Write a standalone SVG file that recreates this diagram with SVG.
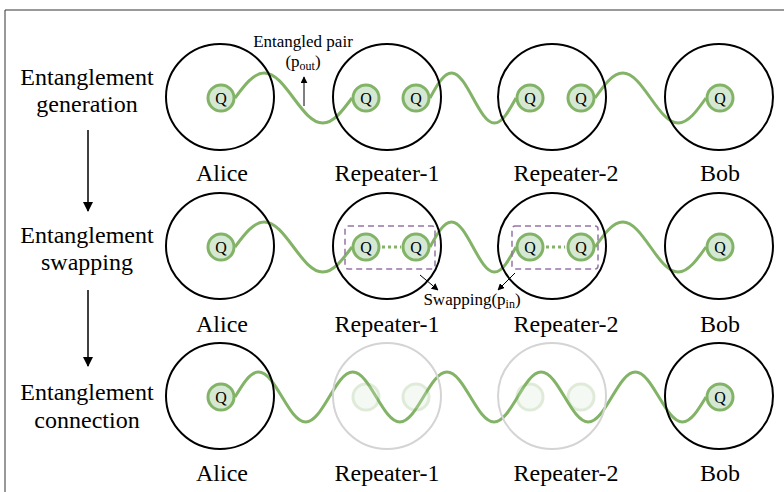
<svg xmlns="http://www.w3.org/2000/svg" width="784" height="492" viewBox="0 0 784 492">
<defs>
<style>
.frame{fill:none;stroke:#333;stroke-width:1}
.big{fill:none;stroke:#000;stroke-width:2}
.bigf{fill:none;stroke:#d4d4d4;stroke-width:2}
.q{fill:#d5e8d4;stroke:#82b366;stroke-width:3}
.qf{fill:#d5e8d4;stroke:#82b366;stroke-width:3;opacity:0.25}
text{font-family:"Liberation Serif","Times New Roman","DejaVu Serif",serif;fill:#000;text-anchor:middle}
.qt{font-size:16px}
.lbl{font-size:24px}
.sm{font-size:17px}
.wave{fill:none;stroke:#82b366;stroke-width:3}
.dot{stroke:#82b366;stroke-width:3;stroke-dasharray:3 3}
.box{fill:none;stroke:#9673a6;stroke-width:1.5;stroke-dasharray:6 4}
.arr{stroke:#000;stroke-width:1.5;fill:none;marker-end:url(#ah)}
.arrs{stroke:#000;stroke-width:1;fill:none;marker-end:url(#ahs)}
</style>
<marker id="ah" viewBox="0 0 10 10" refX="9" refY="5" markerWidth="10" markerHeight="10" markerUnits="userSpaceOnUse" orient="auto"><path d="M0,0 L10,5 L0,10 z" fill="#000"/></marker>
<marker id="ahs" viewBox="0 0 10 10" refX="9" refY="5" markerWidth="7" markerHeight="7" markerUnits="userSpaceOnUse" orient="auto"><path d="M0,0 L10,5 L0,10 z" fill="#000"/></marker>
</defs>
<rect width="784" height="492" fill="#fff"/>
<path class="frame" d="M5,492 V10 H784"/>

<g id="stage-labels">
<g id="stage-generation"><text class="lbl" x="87" y="85">Entanglement</text><text class="lbl" x="87" y="112">generation</text></g>
<g id="stage-swapping"><text class="lbl" x="87" y="243">Entanglement</text><text class="lbl" x="87" y="270">swapping</text></g>
<g id="stage-connection"><text class="lbl" x="87" y="400">Entanglement</text><text class="lbl" x="87" y="428">connection</text></g>
</g>

<g id="connectors">
<line class="arr" x1="88" y1="130" x2="88" y2="211"/>
<line class="arr" x1="88" y1="290" x2="88" y2="366"/>
<path class="wave" d="M235,98 c9.54,-12.8 18.66,-25 29.25,-25 c10.59,0 19.71,12.2 29.25,25 c9.54,12.8 18.66,25 29.25,25 c10.59,0 19.71,-12.2 29.25,-25"/>
<path class="wave" d="M430,98 c7.01,-12.8 13.72,-25 21.5,-25 c7.78,0 14.49,12.2 21.5,25 c7.01,12.8 13.72,25 21.5,25 c7.78,0 14.49,-12.2 21.5,-25"/>
<path class="wave" d="M595,98 c9.05,-12.8 17.7,-25 27.75,-25 c10.05,0 18.7,12.2 27.75,25 c9.05,12.8 17.7,25 27.75,25 c10.05,0 18.7,-12.2 27.75,-25"/>
<line class="arrs" x1="304" y1="106" x2="304" y2="77"/>
<path class="wave" d="M235,247 c9.54,-12.8 18.66,-25 29.25,-25 c10.59,0 19.71,12.2 29.25,25 c9.54,12.8 18.66,25 29.25,25 c10.59,0 19.71,-12.2 29.25,-25"/>
<path class="wave" d="M430,247 c7.01,-12.8 13.72,-25 21.5,-25 c7.78,0 14.49,12.2 21.5,25 c7.01,12.8 13.72,25 21.5,25 c7.78,0 14.49,-12.2 21.5,-25"/>
<path class="wave" d="M595,247 c9.05,-12.8 17.7,-25 27.75,-25 c10.05,0 18.7,12.2 27.75,25 c9.05,12.8 17.7,25 27.75,25 c10.05,0 18.7,-12.2 27.75,-25"/>
<line class="dot" x1="382" y1="247" x2="401" y2="247"/>
<line class="dot" x1="546" y1="247" x2="565" y2="247"/>
<line class="arrs" x1="420" y1="275" x2="438" y2="290"/>
<line class="arrs" x1="515" y1="273" x2="498" y2="290"/>
<path class="wave" d="M235,397 c7.68,-12.8 15.02,-25 23.55,-25 c8.53,0 15.87,12.2 23.55,25 c7.68,12.8 15.02,25 23.55,25 c8.53,0 15.87,-12.2 23.55,-25 c7.68,-12.8 15.02,-25 23.55,-25 c8.53,0 15.87,12.2 23.55,25 c7.68,12.8 15.02,25 23.55,25 c8.53,0 15.87,-12.2 23.55,-25 c7.68,-12.8 15.02,-25 23.55,-25 c8.53,0 15.87,12.2 23.55,25 c7.68,12.8 15.02,25 23.55,25 c8.53,0 15.87,-12.2 23.55,-25 c7.68,-12.8 15.02,-25 23.55,-25 c8.53,0 15.87,12.2 23.55,25 c7.68,12.8 15.02,25 23.55,25 c8.53,0 15.87,-12.2 23.55,-25 c7.68,-12.8 15.02,-25 23.55,-25 c8.53,0 15.87,12.2 23.55,25 c7.68,12.8 15.02,25 23.55,25 c8.53,0 15.87,-12.2 23.55,-25"/>
</g>

<g id="annotations">
<text class="sm" x="303" y="47">Entangled pair</text>
<text class="sm" x="303" y="67">(p<tspan font-size="12" dy="3">out</tspan><tspan dy="-3">)</tspan></text>
<rect class="box" x="345" y="226" width="90" height="43" rx="3"/>
<rect class="box" x="512" y="226" width="86" height="43" rx="3"/>
<text class="sm" x="472" y="305">Swapping(p<tspan font-size="12" dy="3">in</tspan><tspan dy="-3">)</tspan></text>
</g>

<g id="alice-1"><ellipse class="big" cx="220" cy="97" rx="54" ry="53"/><circle class="q" cx="221" cy="98" r="13"/><text class="qt" x="221" y="104">Q</text><text class="lbl" x="222" y="181">Alice</text></g>
<g id="repeater1-1"><ellipse class="big" cx="387" cy="97" rx="54" ry="53"/><circle class="q" cx="366" cy="98" r="13"/><text class="qt" x="366" y="104">Q</text><circle class="q" cx="416" cy="98" r="13"/><text class="qt" x="416" y="104">Q</text><text class="lbl" x="387" y="181">Repeater-1</text></g>
<g id="repeater2-1"><ellipse class="big" cx="552" cy="97" rx="54" ry="53"/><circle class="q" cx="530" cy="98" r="13"/><text class="qt" x="530" y="104">Q</text><circle class="q" cx="581" cy="98" r="13"/><text class="qt" x="581" y="104">Q</text><text class="lbl" x="566" y="181">Repeater-2</text></g>
<g id="bob-1"><ellipse class="big" cx="719" cy="97" rx="54" ry="53"/><circle class="q" cx="720" cy="98" r="13"/><text class="qt" x="720" y="104">Q</text><text class="lbl" x="720" y="181">Bob</text></g>

<g id="alice-2"><ellipse class="big" cx="220" cy="246" rx="54" ry="53"/><circle class="q" cx="221" cy="247" r="13"/><text class="qt" x="221" y="253">Q</text><text class="lbl" x="222" y="332">Alice</text></g>
<g id="repeater1-2"><ellipse class="big" cx="387" cy="246" rx="54" ry="53"/><circle class="q" cx="366" cy="247" r="13"/><text class="qt" x="366" y="253">Q</text><circle class="q" cx="416" cy="247" r="13"/><text class="qt" x="416" y="253">Q</text><text class="lbl" x="387" y="332">Repeater-1</text></g>
<g id="repeater2-2"><ellipse class="big" cx="552" cy="246" rx="54" ry="53"/><circle class="q" cx="530" cy="247" r="13"/><text class="qt" x="530" y="253">Q</text><circle class="q" cx="581" cy="247" r="13"/><text class="qt" x="581" y="253">Q</text><text class="lbl" x="566" y="332">Repeater-2</text></g>
<g id="bob-2"><ellipse class="big" cx="719" cy="246" rx="54" ry="53"/><circle class="q" cx="720" cy="247" r="13"/><text class="qt" x="720" y="253">Q</text><text class="lbl" x="720" y="332">Bob</text></g>

<g id="alice-3"><ellipse class="big" cx="220" cy="396" rx="54" ry="53"/><circle class="q" cx="221" cy="397" r="13"/><text class="qt" x="221" y="403">Q</text><text class="lbl" x="222" y="481">Alice</text></g>
<g id="repeater1-3"><ellipse class="bigf" cx="387" cy="396" rx="54" ry="53"/><circle class="qf" cx="366" cy="397" r="13"/><circle class="qf" cx="416" cy="397" r="13"/><text class="lbl" x="387" y="481">Repeater-1</text></g>
<g id="repeater2-3"><ellipse class="bigf" cx="552" cy="396" rx="54" ry="53"/><circle class="qf" cx="530" cy="397" r="13"/><circle class="qf" cx="581" cy="397" r="13"/><text class="lbl" x="566" y="481">Repeater-2</text></g>
<g id="bob-3"><ellipse class="big" cx="719" cy="396" rx="54" ry="53"/><circle class="q" cx="720" cy="397" r="13"/><text class="qt" x="720" y="403">Q</text><text class="lbl" x="720" y="481">Bob</text></g>
</svg>
